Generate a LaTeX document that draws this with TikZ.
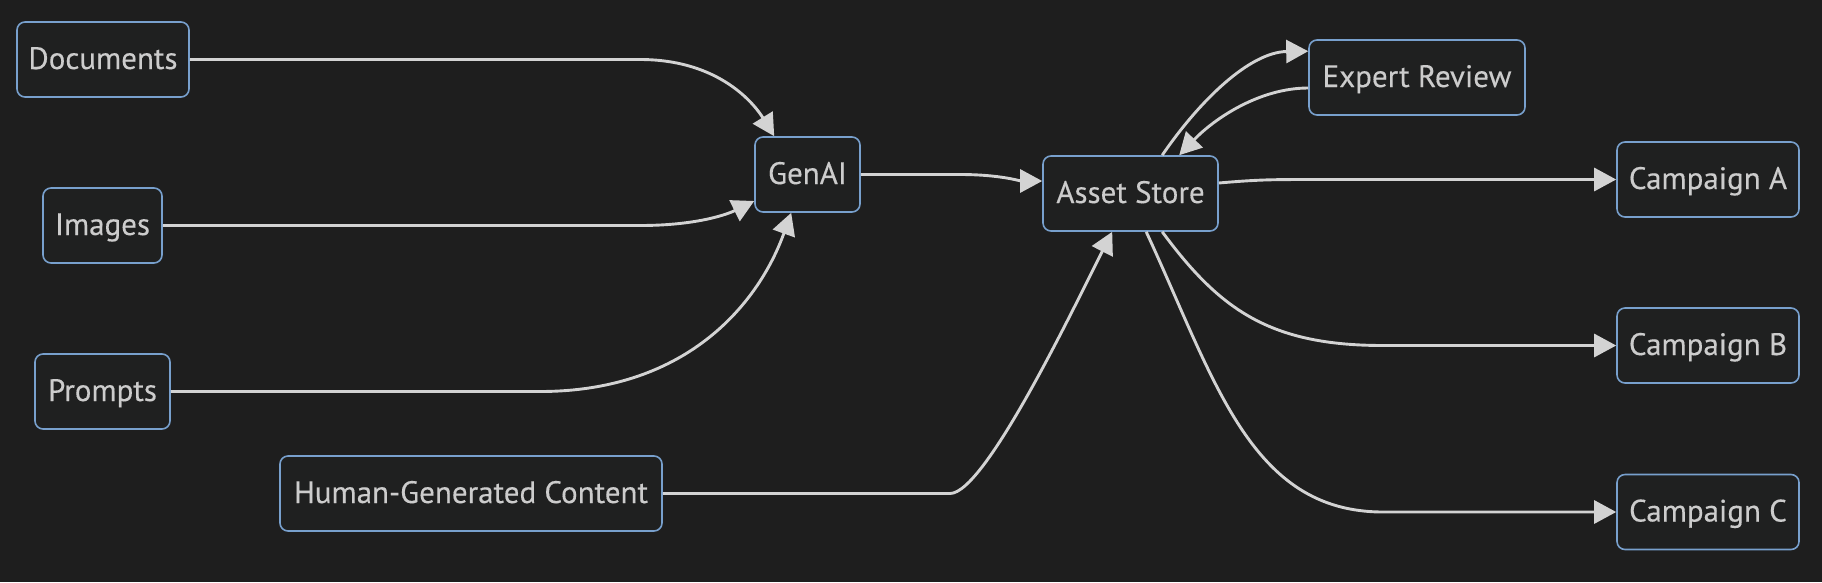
\documentclass[tikz,border=0pt]{standalone}
\usepackage{fontspec}
\setmainfont{PT Sans}
\newfontfamily\boxfont{PT Sans}[FakeBold=0.3]
\usetikzlibrary{arrows.meta}
\definecolor{bgcol}{RGB}{30,30,30}
\definecolor{boxfill}{RGB}{31,32,32}
\definecolor{boxline}{RGB}{120,160,205}
\definecolor{boxtext}{RGB}{204,204,204}
\definecolor{linecol}{RGB}{211,211,211}

\begin{document}
\begin{tikzpicture}[
    x=1pt, y=-1pt,
    every node/.style={font=\boxfont\fontsize{31}{37}\selectfont},
    block/.style={rectangle, draw=boxline, fill=boxfill, text=boxtext, rounded corners=8pt, line width=1.6pt, minimum height=75pt, inner sep=0pt, text height=26pt, text depth=7pt, align=center},
    arrow/.style={-{Triangle[length=22pt,width=23pt]}, draw=linecol, line width=2.9pt}
]
\fill[bgcol] (0,0) rectangle (1822,582);
\useasboundingbox (0,0) rectangle (1822,582);

% Nodos (posiciones fijas)
\node[block, minimum width=172pt] (docs) at (103,59.5) {Documents};
\node[block, minimum width=119pt] (images) at (102.5,225.5) {Images};
\node[block, minimum width=135pt] (prompts) at (102.5,391.5) {Prompts};
\node[block, minimum width=382pt] (human) at (471,493.5) {Human-Generated Content};
\node[block, minimum width=105pt] (genai) at (807.5,174.5) {GenAI};
\node[block, minimum width=175pt] (store) at (1130.5,193.5) {Asset Store};
\node[block, minimum width=216pt] (review) at (1417,77.5) {Expert Review};
\node[block, minimum width=182pt] (campA) at (1708,179.5) {Campaign A};
\node[block, minimum width=182pt] (campB) at (1708,345.5) {Campaign B};
\node[block, minimum width=182pt] (campC) at (1708,512) {Campaign C};

% Flechas
\draw[arrow] (docs.east) -- (640,59.5) .. controls (720,59.5) and (755,105) .. ([xshift=20pt]genai.north west);
\draw[arrow] (images.east) -- (640,225.5) .. controls (700,225.5) and (730,213) .. ([yshift=-26.5pt]genai.west);
\draw[arrow] (prompts.east) -- (540,391.5) .. controls (690,391.5) and (760,300) .. ([xshift=37pt]genai.south west);
\draw[arrow] (human.east) -- (950,493.5) .. controls (985,493.5) and (1073,309) .. ([xshift=70pt]store.south west);
\draw[arrow] (genai.east) -- (960,174.5) .. controls (1000,174.5) and (1020,181) .. ([yshift=12.5pt]store.west);
\draw[arrow] ([xshift=120pt]store.north west) .. controls (1200,100) and (1250,52) .. ([yshift=-12pt]review.north west);
\draw[arrow] ([yshift=-10.5pt]review.west) .. controls (1260,88) and (1215,118) .. ([xshift=137pt]store.north west);
\draw[arrow] ([yshift=10.5pt]store.east) .. controls (1260,179.5) and (1270,179.5) .. (1320,179.5) -- (campA.west);
\draw[arrow] ([xshift=120pt]store.south west) .. controls (1220,310) and (1270,345.5) .. (1383,345.5) -- (campB.west);
\draw[arrow] ([xshift=104pt]store.south west) .. controls (1215,380) and (1250,512) .. (1383,512) -- (campC.west);

\end{tikzpicture}
\end{document}
